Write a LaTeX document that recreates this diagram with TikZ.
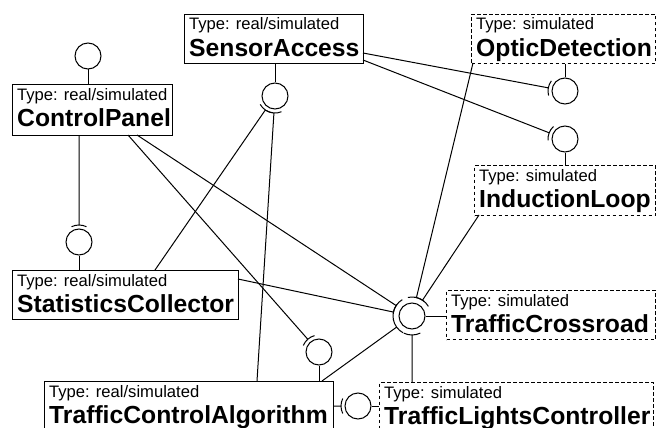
\documentclass[tikz,border=0pt]{standalone}
\usepackage{fontspec}
\setmainfont{Liberation Sans}
\usetikzlibrary{calc}

\tikzset{
  conn/.style={line width=1pt},
  comp/.style={draw, line width=1pt, rectangle, inner sep=0pt, anchor=north west},
  simcomp/.style={comp, dash pattern=on 3.5pt off 2.5pt},
  iface/.style={draw, circle, line width=1pt, minimum size=26pt, inner sep=0pt},
  typetxt/.style={anchor=base west, inner sep=0pt, font=\fontsize{16.6}{18}\selectfont},
  titletxt/.style={anchor=base west, inner sep=0pt, font=\fontsize{24.7}{28}\selectfont\bfseries},
}

% name, x1, y1, x2, y2, style, type, title
\newcommand\compo[8]{%
  \node[#6, minimum width={#4-#2}, minimum height={#5-#3}] (#1) at (#2,#3) {};
  \node[typetxt] (#1-t) at (#2+5,#3+16) {Type: #7};
  \node[titletxt] (#1-n) at (#2+5,#3+42.5) {#8};
}

% start coordinate, interface node, socket radius
\newcommand\sock[3]{%
  \draw[conn] let \p1=($(#1)-(#2.center)$), \n1={atan2(\y1,\x1)} in
    (#1) -- ($(#2.center)!#3!(#1)$)
    ($(#2.center)+(\n1-26:#3)$) arc[start angle=\n1-26, end angle=\n1+26, radius=#3];
}

\begin{document}
\begin{tikzpicture}[x=1pt, y=-1pt]
\clip (0,0) rectangle (656,428);
\fill[white] (0,0) rectangle (656,428);

% components
\compo{sa}{184}{14}{363}{63}{comp}{real/simulated}{SensorAccess}
\compo{cp}{12}{84}{172}{135}{comp}{real/simulated}{ControlPanel}
\compo{od}{471}{14}{655}{63}{simcomp}{simulated}{OpticDetection}
\compo{il}{474}{165}{655}{215}{simcomp}{simulated}{InductionLoop}
\compo{sc}{12}{270}{238}{319}{comp}{real/simulated}{StatisticsCollector}
\compo{tc}{446}{290}{655}{339}{simcomp}{simulated}{TrafficCrossroad}
\compo{tca}{44}{381}{333}{432}{comp}{real/simulated}{TrafficControlAlgorithm}
\compo{tlc}{379}{382}{653}{433}{simcomp}{simulated}{TrafficLightsController}

% provided interfaces (lollipops)
\node[iface] (cpI)  at (88,56)   {};
\node[iface] (saI)  at (275,96)  {};
\node[iface] (odI)  at (565,91)  {};
\node[iface] (ilI)  at (565,139) {};
\node[iface] (scI)  at (79,242)  {};
\node[iface] (tcaI) at (319,352) {};
\node[iface] (tlcI) at (358,406) {};
\node[iface] (tcI)  at (412,316) {};

\draw[conn] (cpI.south) -- (cpI.south |- cp.north);
\draw[conn] (saI.north) -- (saI.north |- sa.south);
\draw[conn] (odI.north) -- (odI.north |- od.south);
\draw[conn] (ilI.south) -- (ilI.south |- il.north);
\draw[conn] (scI.south) -- (scI.south |- sc.north);
\draw[conn] (tcaI.south) -- (tcaI.south |- tca.north);
\draw[conn] (tlcI.east) -- (tlcI.east -| tlc.west);
\draw[conn] (tcI.east) -- (tcI.east -| tc.west);

% start points of required connections
\coordinate (saA)  at (363,53);
\coordinate (saB)  at (363,60);
\coordinate (cpA)  at (79,135);
\coordinate (cpB)  at (128,135);
\coordinate (cpC)  at (137,135);
\coordinate (scA)  at (155,270);
\coordinate (scB)  at (238,279);
\coordinate (tcaA) at (257,381);
\coordinate (tcaB) at (322,381);
\coordinate (tcaC) at (333,406);
\coordinate (odA)  at (473,63);
\coordinate (ilA)  at (479,215);
\coordinate (tlcA) at (412,382);

% required interfaces (sockets)
\sock{saA}{odI}{17pt}
\sock{saB}{ilI}{17pt}
\sock{cpA}{scI}{17pt}
\sock{cpB}{tcaI}{17pt}
\sock{scA}{saI}{17pt}
\sock{tcaA}{saI}{17pt}
\sock{tcaC}{tlcI}{17pt}
\sock{cpC}{tcI}{19pt}
\sock{scB}{tcI}{19pt}
\sock{tcaB}{tcI}{19pt}
\sock{odA}{tcI}{19pt}
\sock{ilA}{tcI}{19pt}
\sock{tlcA}{tcI}{19pt}
\end{tikzpicture}
\end{document}
